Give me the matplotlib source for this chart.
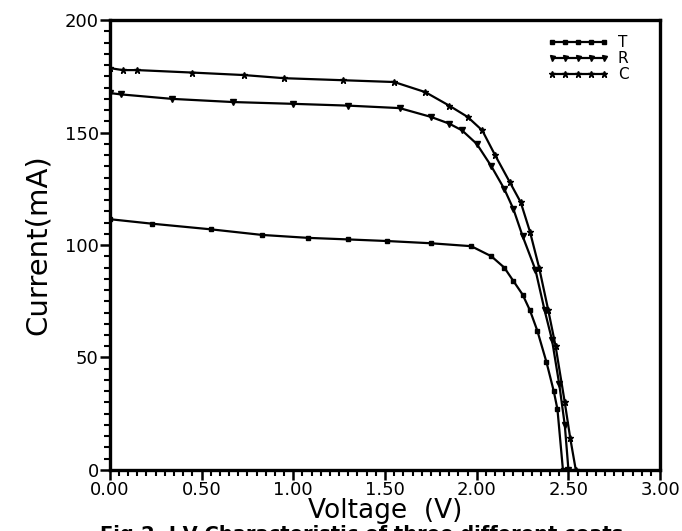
import numpy as np
import matplotlib.pyplot as plt
from matplotlib.ticker import MultipleLocator, FormatStrFormatter

# I-V data
v_c = [0, 0.07, 0.15, 0.45, 0.73, 0.95, 1.27, 1.55, 1.72, 1.85, 1.95, 2.03,
       2.10, 2.18, 2.24, 2.29, 2.34, 2.39, 2.43, 2.48, 2.51, 2.54]
i_c = [178.7, 177.8, 177.8, 176.7, 175.6, 174.2, 173.3, 172.5, 168, 162, 157, 151,
       140, 128, 119, 106, 90, 71, 55, 30, 14, 0]

v_r = [0, 0.06, 0.34, 0.67, 1.00, 1.30, 1.58, 1.75, 1.85, 1.92, 2.00, 2.08,
       2.15, 2.20, 2.25, 2.32, 2.37, 2.41, 2.45, 2.48, 2.50]
i_r = [167.6, 167, 165, 163.6, 162.8, 162, 160.9, 157, 154, 151, 145, 135,
       125, 116, 104, 89, 71, 58, 38, 20, 0]

v_t = [0, 0.23, 0.55, 0.83, 1.08, 1.30, 1.51, 1.75, 1.97, 2.08, 2.15, 2.20,
       2.25, 2.29, 2.33, 2.38, 2.42, 2.44, 2.47]
i_t = [111.5, 109.5, 107, 104.5, 103.2, 102.5, 101.8, 100.8, 99.5, 95, 90, 84,
       78, 71, 62, 48, 35, 27, 0]

plt.rcParams['font.family'] = ['DejaVu Sans']

fig = plt.figure(figsize=(6.82, 5.31), dpi=100)
ax = fig.add_axes([0.161, 0.115, 0.807, 0.847])

ax.plot(v_t, i_t, color='black', lw=1.6, marker='s', ms=3.5, label='T')
ax.plot(v_r, i_r, color='black', lw=1.6, marker='v', ms=4, label='R')
ax.plot(v_c, i_c, color='black', lw=1.6, marker='*', ms=5, label='C')

ax.set_xlim(0, 3.0)
ax.set_ylim(0, 200)

ax.xaxis.set_major_locator(MultipleLocator(0.5))
ax.xaxis.set_minor_locator(MultipleLocator(0.05))
ax.yaxis.set_major_locator(MultipleLocator(50))
ax.yaxis.set_minor_locator(MultipleLocator(5))
ax.xaxis.set_major_formatter(FormatStrFormatter('%.2f'))

ax.tick_params(which='major', direction='out', length=7, width=1.8, labelsize=13, pad=1)
ax.tick_params(which='minor', direction='out', length=4, width=1.5)

for s in ax.spines.values():
    s.set_linewidth(2.4)

ax.set_xlabel('Voltage  (V)', fontsize=19)
ax.xaxis.set_label_coords(0.5, -0.062)
ax.set_ylabel('Current(mA)', fontsize=21)
ax.yaxis.set_label_coords(-0.105, 0.5)

leg = ax.legend(loc='upper right', bbox_to_anchor=(0.97, 1.0), frameon=False,
                fontsize=11, handlelength=4, handletextpad=0.6, labelspacing=0.05,
                borderaxespad=0.6, numpoints=5, markerscale=0.9)

fig.text(0.53, 0.012, 'Fig.2. I-V Characteristic of three different coats',
         ha='center', va='top', fontsize=14, fontweight='bold')

fig.savefig('out.png', dpi=100)
